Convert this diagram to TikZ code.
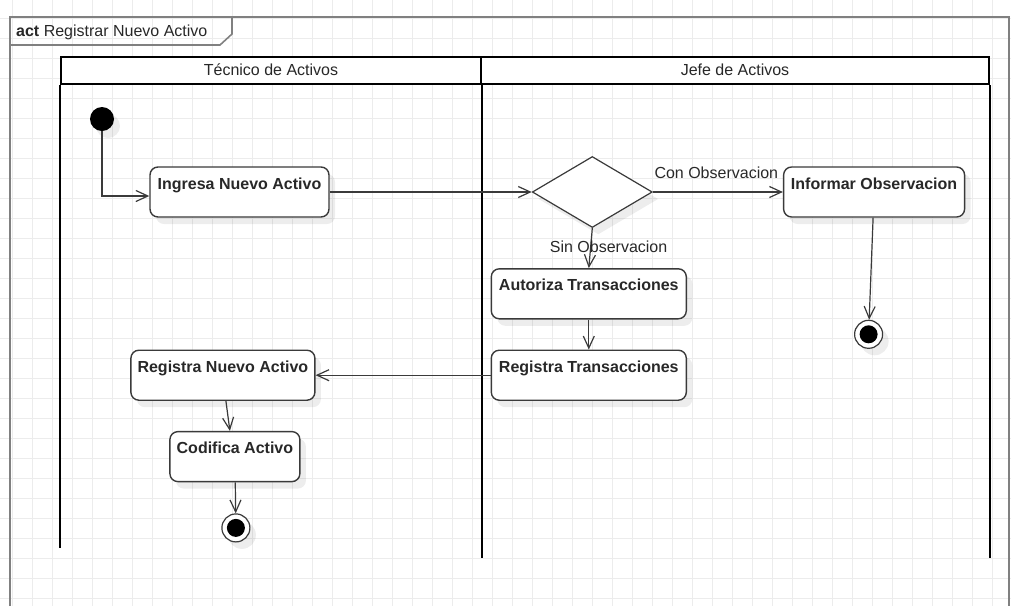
\documentclass[tikz,border=0pt]{standalone}
\usepackage{fontspec}
\setmainfont{Liberation Sans}
\usetikzlibrary{positioning,arrows.meta,shapes.geometric,shadows}
\definecolor{FrameGray}{RGB}{128,128,128}
\definecolor{LineGray}{RGB}{58,58,58}
\definecolor{TextGray}{RGB}{40,40,40}
\definecolor{GridGray}{RGB}{236,236,236}
\tikzset{
  flow/.style={-{Straight Barb[length=12pt,width=11pt]},line width=1.2pt,draw=LineGray},
  gridline/.style={draw=GridGray,line width=1pt},
  framestyle/.style={draw=FrameGray,line width=1.6pt},
  laneline/.style={draw=black,line width=2pt},
  lanehead/.style={draw=black,line width=2pt,fill=white,minimum height=27pt,
    inner sep=0pt,text height=12pt,text depth=3pt,text=TextGray,
    font=\fontsize{16}{18}\selectfont},
  softshadow/.style={drop shadow={shadow xshift=6pt,shadow yshift=-7pt,
    opacity=0.07,fill=black}},
  action/.style={draw=LineGray,line width=1.4pt,fill=white,rounded corners=8pt,
    minimum height=50pt,inner xsep=2pt,inner ysep=0pt,text height=22pt,
    text depth=28pt,text=TextGray,font=\fontsize{16}{18}\selectfont\bfseries,
    softshadow},
  decision/.style={diamond,draw=LineGray,line width=1.2pt,fill=white,
    minimum width=120pt,minimum height=71pt,inner sep=0pt,softshadow},
  initial/.style={circle,fill=black,minimum size=24pt,inner sep=0pt,softshadow},
  final/.style={circle,draw=LineGray,line width=1.2pt,fill=white,
    minimum size=28pt,inner sep=0pt,softshadow,
    path picture={\fill[black] (path picture bounding box.center) circle (9pt);}},
  lbl/.style={inner sep=0pt,text=TextGray,font=\fontsize{16}{18}\selectfont},
  frametitle/.style={inner sep=0pt,text=TextGray,font=\fontsize{16}{18}\selectfont}
}

\begin{document}
\begin{tikzpicture}[x=1pt,y=-1pt]
  \useasboundingbox (0,0) rectangle (1011,606);
  % background grid
  \foreach \gx in {12,32,...,1012} \draw[gridline] (\gx,0) -- (\gx,606);
  \foreach \gy in {18,38,...,598} \draw[gridline] (0,\gy) -- (1011,\gy);

  % diagram frame
  \draw[framestyle] (10,606) -- (10,17) -- (1009,17) -- (1009,606);
  \draw[framestyle] (10,45) -- (220,45) -- (232,34) -- (232,17);
  \node[frametitle,anchor=base west] (acttitle) at (16,36) {\textbf{act} Registrar Nuevo Activo};

  % swimlanes
  \node[lanehead,minimum width=420pt] (tecnico) at (271,70.5) {Técnico de Activos};
  \node[lanehead,minimum width=508pt,right=-2pt of tecnico] (jefe) {Jefe de Activos};
  \draw[laneline] (tecnico.south west) -- ++(0,463);
  \draw[laneline] (tecnico.south east) -- ++(0,473);
  \draw[laneline] (jefe.south east) -- ++(0,473);

  % activities
  \node[initial] (init) at (102,119) {};
  \node[action,minimum width=179pt] (ingresa) at (239.5,192) {Ingresa Nuevo Activo};
  \node[decision,right=202pt of ingresa] (check) {};
  \node[action,minimum width=181pt,right=130pt of check] (informar) {Informar Observacion};
  \node[final,below=102pt of informar,xshift=-5.5pt] (endobs) {};
  \node[action,minimum width=195pt,below=40pt of check,xshift=-3.5pt] (autoriza) {Autoriza Transacciones};
  \node[action,minimum width=195pt,below=30pt of autoriza] (registratr) {Registra Transacciones};
  \node[action,minimum width=184pt,left=175pt of registratr] (registraact) {Registra Nuevo Activo};
  \node[action,minimum width=130pt,below=30pt of registraact,xshift=12pt] (codifica) {Codifica Activo};
  \node[final,below=31pt of codifica,xshift=1pt] (endreg) {};

  % flows
  \draw[flow] (init) |- ([yshift=-4pt]ingresa.west);
  \draw[flow] (ingresa) -- (check);
  \draw[flow] (check) -- node[lbl,pos=0,anchor=base west,xshift=1pt,yshift=14pt] (conobs) {Con Observacion} (informar);
  \draw[flow] (informar) -- (endobs);
  \draw[flow] (check.south) -- node[lbl,pos=0,anchor=base west,xshift=-43pt,yshift=-24pt] (sinobs) {Sin Observacion} (autoriza.north);
  \draw[flow] (autoriza) -- (registratr);
  \draw[flow] (registratr) -- (registraact);
  \draw[flow] ([xshift=3pt]registraact.south) -- ([xshift=-5pt]codifica.north);
  \draw[flow] (codifica) -- (endreg);
\end{tikzpicture}
\end{document}
